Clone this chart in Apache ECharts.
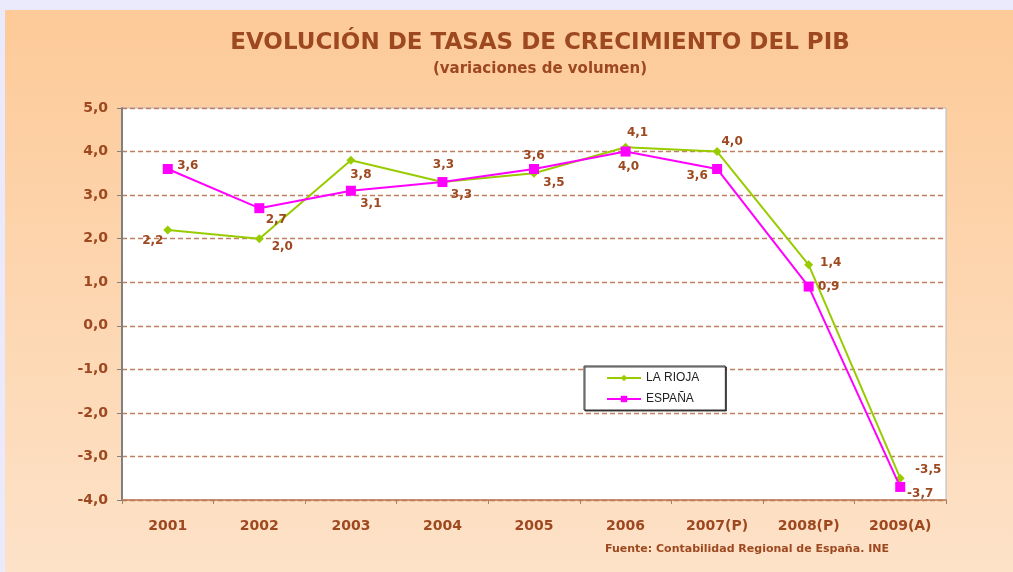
<!DOCTYPE html>
<html>
<head>
<meta charset="utf-8">
<script src="https://cdn.jsdelivr.net/npm/echarts@6/dist/echarts.min.js"></script>
<style>
  html, body { margin: 0; padding: 0; background: #eaeafc; }
  #main { width: 1013px; height: 572px; }
</style>
</head>
<body>
<div id="main"></div>
<script>
const years = ['2001', '2002', '2003', '2004', '2005', '2006', '2007(P)', '2008(P)', '2009(A)']
const laRioja = [2.2, 2.0, 3.8, 3.3, 3.5, 4.1, 4.0, 1.4, -3.5]
const espana = [3.6, 2.7, 3.1, 3.3, 3.6, 4.0, 3.6, 0.9, -3.7]

// where each value label sits, relative to its point
const riojaLabelOffset = [[-15, 11], [23, 8], [10, 15], [1, -17], [20, 10], [12, -14], [15, -10], [22, -2], [28, -8]]
const espanaLabelOffset = [[20, -3], [17, 12], [20, 13], [19, 13], [0, -13], [3, 15], [-20, 7], [20, 0], [20, 7]]

const brown = '#9e4820'
const wide = '"DejaVu Sans", Verdana, sans-serif'
const fmt = v => v.toFixed(1).replace('.', ',')

function withLabels(values, offsets) {
  return values.map((v, i) => ({
    value: v,
    label: { offset: offsets[i] }
  }))
}

const chart = echarts.init(document.getElementById('main'))

const option = {
  backgroundColor: '#eaeafc',
  graphic: [
    {
      type: 'rect',
      left: 5,
      top: 10,
      shape: { width: 1008, height: 562 },
      style: {
        fill: new echarts.graphic.LinearGradient(0, 0, 0, 1, [
          { offset: 0, color: '#fdca98' },
          { offset: 1, color: '#fde2c8' }
        ])
      },
      z: -10
    },
    {
      type: 'text',
      left: 605,
      top: 544,
      style: {
        text: 'Fuente: Contabilidad Regional de España. INE',
        font: 'bold 11px "DejaVu Sans", sans-serif',
        fill: brown
      }
    }
  ],
  title: {
    text: 'EVOLUCIÓN DE TASAS DE CRECIMIENTO DEL PIB',
    subtext: '(variaciones de volumen)',
    left: 535,
    textAlign: 'center',
    top: 27,
    itemGap: 7,
    textStyle: {
      color: brown,
      fontFamily: wide,
      fontWeight: 'bold',
      fontSize: 23
    },
    subtextStyle: {
      color: brown,
      fontFamily: wide,
      fontWeight: 'bold',
      fontSize: 15
    }
  },
  legend: {
    left: 584,
    top: 366,
    orient: 'vertical',
    itemWidth: 34,
    itemHeight: 8,
    itemGap: 9,
    padding: [6, 26, 5, 22],
    backgroundColor: '#ffffff',
    borderColor: '#333333',
    borderWidth: 1,
    shadowColor: 'rgba(0,0,0,0.7)',
    shadowOffsetX: 1,
    shadowOffsetY: 1,
    textStyle: {
      color: '#222',
      fontFamily: '"Liberation Sans", Arial',
      fontSize: 12
    },
    data: ['LA RIOJA', 'ESPAÑA']
  },
  grid: {
    left: 122,
    right: 67,
    top: 108,
    bottom: 72,
    show: true,
    backgroundColor: '#ffffff',
    borderColor: '#b8b8c0',
    borderWidth: 1
  },
  xAxis: {
    type: 'category',
    data: years,
    boundaryGap: true,
    axisLine: { onZero: false, lineStyle: { color: '#c07850', width: 1.5 } },
    axisTick: { show: true, alignWithLabel: false, length: 4, lineStyle: { color: '#a08070' } },
    axisLabel: {
      color: brown,
      fontWeight: 'bold',
      fontSize: 14,
      fontFamily: wide,
      margin: 19
    }
  },
  yAxis: {
    type: 'value',
    min: -4,
    max: 5,
    interval: 1,
    axisLine: { show: true, lineStyle: { color: '#808080', width: 2 } },
    axisTick: { show: true, length: 5, lineStyle: { color: '#808080' } },
    axisLabel: {
      color: brown,
      fontWeight: 'bold',
      fontSize: 14,
      fontFamily: wide,
      margin: 14,
      formatter: fmt
    },
    splitLine: {
      lineStyle: { color: '#bf8060', type: [5, 3], width: 1.3 }
    }
  },
  series: [
    {
      name: 'LA RIOJA',
      type: 'line',
      data: withLabels(laRioja, riojaLabelOffset),
      color: '#99cc00',
      symbol: 'diamond',
      symbolSize: 9,
      lineStyle: { width: 2, color: '#99cc00' },
      itemStyle: { color: '#99cc00' },
      label: {
        show: true,
        position: 'inside',
        color: brown,
        fontWeight: 'bold',
        fontSize: 12,
        fontFamily: wide,
        formatter: p => fmt(p.value)
      },
      z: 3
    },
    {
      name: 'ESPAÑA',
      type: 'line',
      data: withLabels(espana, espanaLabelOffset),
      color: '#ff00ff',
      symbol: 'rect',
      symbolSize: 10,
      lineStyle: { width: 2, color: '#ff00ff' },
      itemStyle: { color: '#ff00ff' },
      label: {
        show: true,
        position: 'inside',
        color: brown,
        fontWeight: 'bold',
        fontSize: 12,
        fontFamily: wide,
        formatter: p => fmt(p.value)
      },
      z: 4
    }
  ]
}

chart.setOption(option)
</script>
</body>
</html>
